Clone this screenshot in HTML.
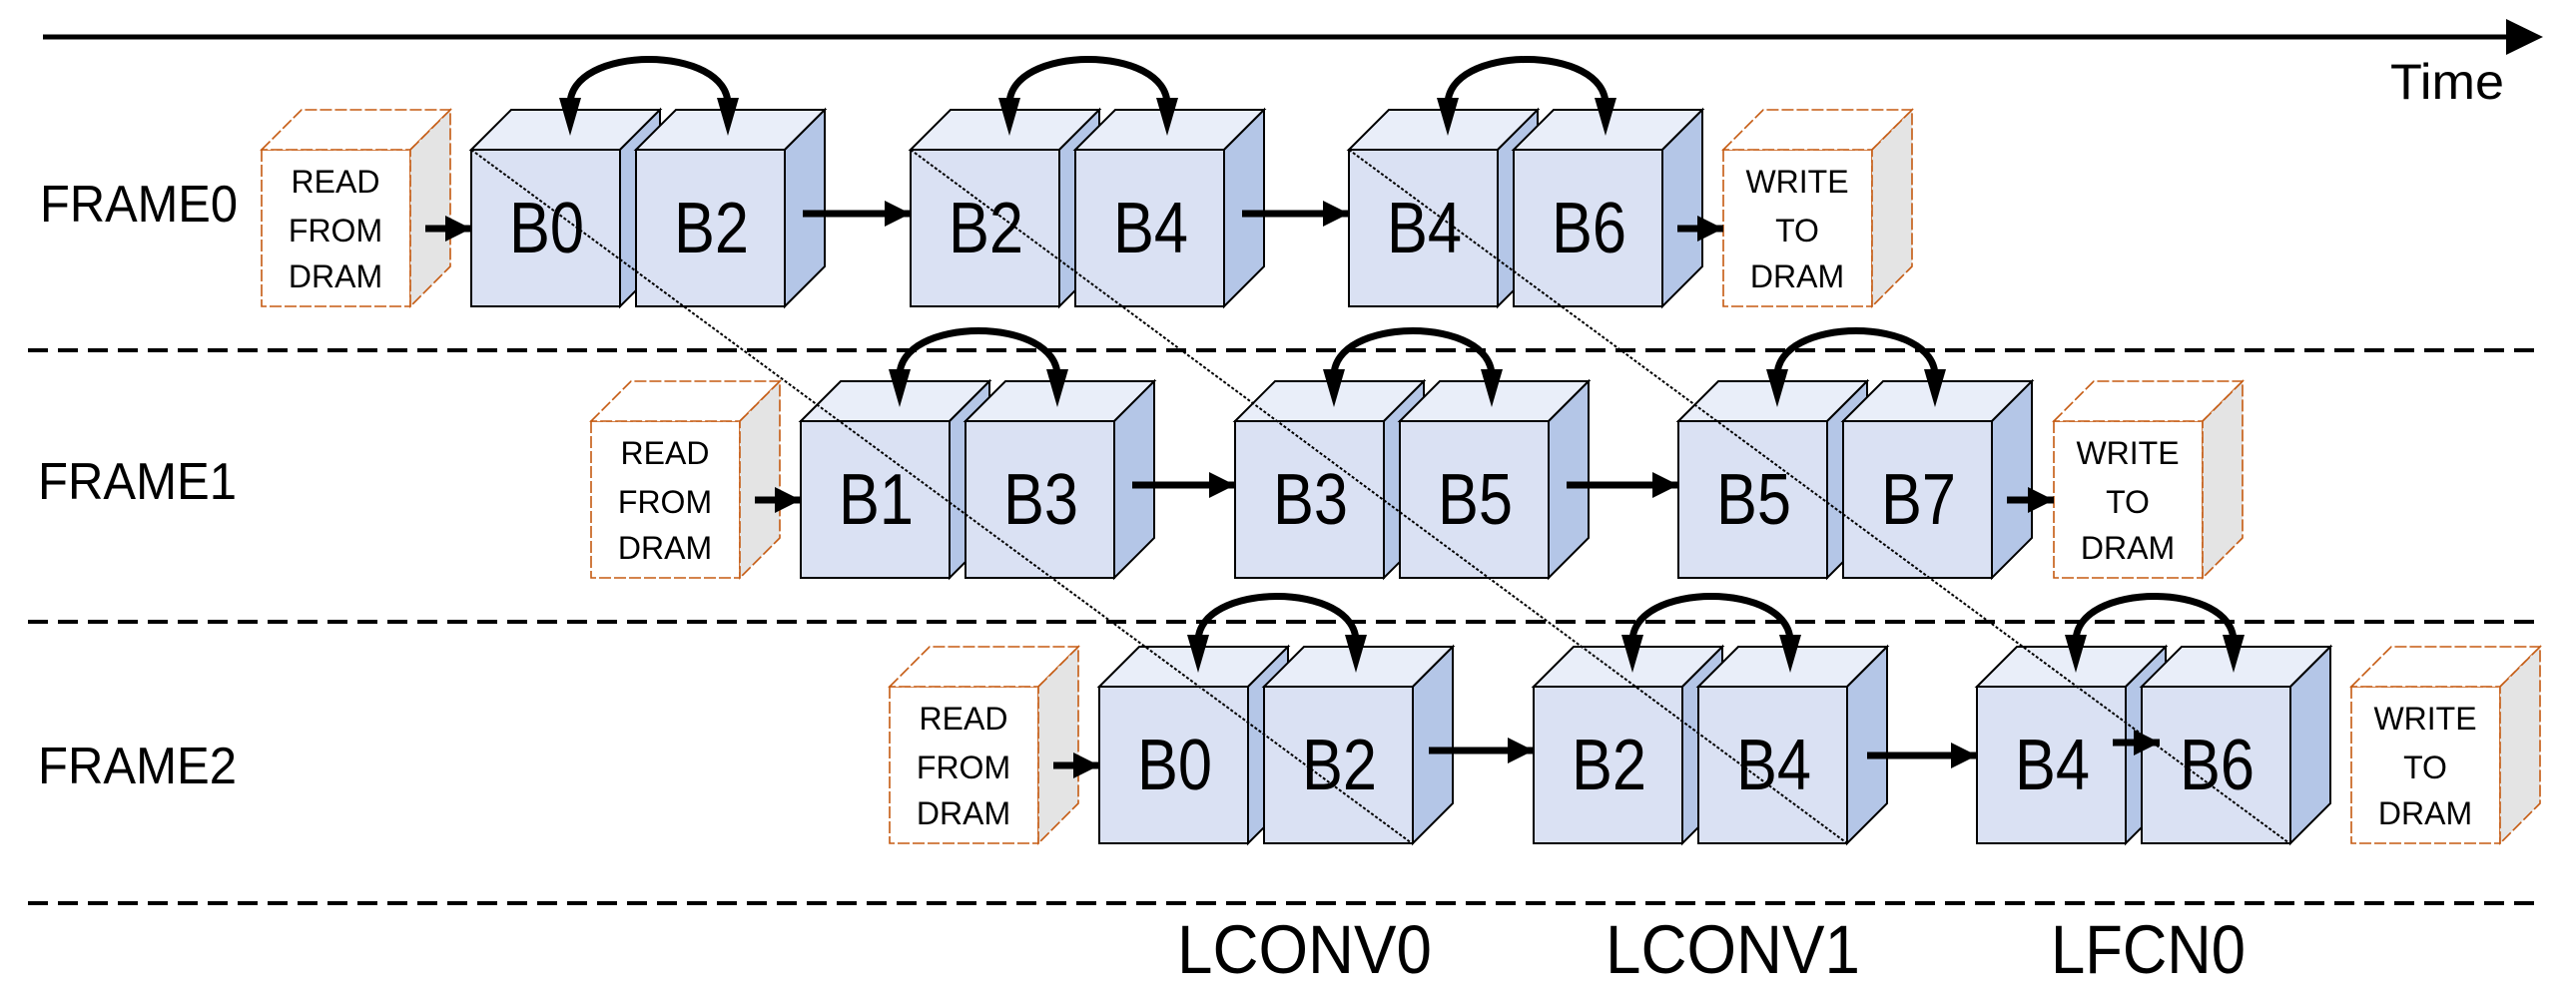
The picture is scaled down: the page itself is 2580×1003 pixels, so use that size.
<!DOCTYPE html>
<html><head><meta charset="utf-8"><style>html,body{margin:0;padding:0;background:#fff}svg{display:block}text{font-family:"Liberation Sans",sans-serif;fill:#000}</style></head>
<body>
<svg width="2580" height="1003" viewBox="0 0 2580 1003" xmlns="http://www.w3.org/2000/svg">
<defs>
<marker id="ah" markerUnits="userSpaceOnUse" markerWidth="30" markerHeight="30" refX="26" refY="13" orient="auto"><polygon points="0,0 26,13 0,26" fill="#000"/></marker>
<g id="cube" stroke="#000" stroke-width="2" stroke-linejoin="miter">
<rect x="0" y="0" width="149" height="157" fill="#dae1f3"/>
<polygon points="0,0 40,-40 189,-40 149,0" fill="#e9eef9"/>
<polygon points="149,0 189,-40 189,117 149,157" fill="#b4c6e7"/>
</g>
<g id="pair">
<use href="#cube"/>
<use href="#cube" x="165"/>
<path d="M99,-44 C97,-106 259,-106 257,-44" fill="none" stroke="#000" stroke-width="7"/>
<polygon points="88,-52 110,-52 99,-14" fill="#000"/>
<polygon points="246,-52 268,-52 257,-14" fill="#000"/>
</g>
<g id="dbox" stroke="#c55a11" stroke-width="1.6" stroke-dasharray="12,3">
<rect x="0" y="0" width="149" height="157" fill="#fff"/>
<polygon points="0,0 40,-40 189,-40 149,0" fill="#fff"/>
<polygon points="149,0 189,-40 189,117 149,157" fill="#e4e4e4"/>
</g>
</defs>

<line x1="43" y1="37" x2="2520" y2="37" stroke="#000" stroke-width="5"/>
<polygon points="2510,19 2547,37 2510,55" fill="#000"/>
<text x="2394" y="99" font-size="50" textLength="114" lengthAdjust="spacingAndGlyphs">Time</text>

<g stroke="#000" stroke-width="4" stroke-dasharray="20,10">
<line x1="28" y1="351" x2="2545" y2="351"/>
<line x1="28" y1="623" x2="2545" y2="623"/>
<line x1="28" y1="905" x2="2545" y2="905"/>
</g>

<text x="40" y="222" font-size="52" textLength="198" lengthAdjust="spacingAndGlyphs">FRAME0</text>
<text x="38" y="500" font-size="52" textLength="199" lengthAdjust="spacingAndGlyphs">FRAME1</text>
<text x="38" y="785" font-size="52" textLength="199" lengthAdjust="spacingAndGlyphs">FRAME2</text>

<use href="#dbox" x="262" y="150"/>
<use href="#dbox" x="592" y="422"/>
<use href="#dbox" x="891" y="688"/>
<use href="#dbox" x="1726" y="150"/>
<use href="#dbox" x="2057" y="422"/>
<use href="#dbox" x="2355" y="688"/>
<g font-size="32" text-anchor="middle">
<text x="336" y="193">READ</text><text x="336" y="242">FROM</text><text x="336" y="288">DRAM</text>
<text x="666" y="465">READ</text><text x="666" y="514">FROM</text><text x="666" y="560">DRAM</text>
<text x="965" y="731">READ</text><text x="965" y="780">FROM</text><text x="965" y="826">DRAM</text>
<text x="1800" y="193">WRITE</text><text x="1800" y="242">TO</text><text x="1800" y="288">DRAM</text>
<text x="2131" y="465">WRITE</text><text x="2131" y="514">TO</text><text x="2131" y="560">DRAM</text>
<text x="2429" y="731">WRITE</text><text x="2429" y="780">TO</text><text x="2429" y="826">DRAM</text>
</g>

<use href="#pair" x="472" y="150"/>
<use href="#pair" x="912" y="150"/>
<use href="#pair" x="1351" y="150"/>
<use href="#pair" x="802" y="422"/>
<use href="#pair" x="1237" y="422"/>
<use href="#pair" x="1681" y="422"/>
<use href="#pair" x="1101" y="688"/>
<use href="#pair" x="1536" y="688"/>
<use href="#pair" x="1980" y="688"/>

<g font-size="72">
<text x="510" y="253" textLength="75" lengthAdjust="spacingAndGlyphs">B0</text>
<text x="675" y="253" textLength="75" lengthAdjust="spacingAndGlyphs">B2</text>
<text x="950" y="253" textLength="75" lengthAdjust="spacingAndGlyphs">B2</text>
<text x="1115" y="253" textLength="75" lengthAdjust="spacingAndGlyphs">B4</text>
<text x="1389" y="253" textLength="75" lengthAdjust="spacingAndGlyphs">B4</text>
<text x="1554" y="253" textLength="75" lengthAdjust="spacingAndGlyphs">B6</text>
<text x="840" y="525" textLength="75" lengthAdjust="spacingAndGlyphs">B1</text>
<text x="1005" y="525" textLength="75" lengthAdjust="spacingAndGlyphs">B3</text>
<text x="1275" y="525" textLength="75" lengthAdjust="spacingAndGlyphs">B3</text>
<text x="1440" y="525" textLength="75" lengthAdjust="spacingAndGlyphs">B5</text>
<text x="1719" y="525" textLength="75" lengthAdjust="spacingAndGlyphs">B5</text>
<text x="1884" y="525" textLength="75" lengthAdjust="spacingAndGlyphs">B7</text>
<text x="1139" y="791" textLength="75" lengthAdjust="spacingAndGlyphs">B0</text>
<text x="1304" y="791" textLength="75" lengthAdjust="spacingAndGlyphs">B2</text>
<text x="1574" y="791" textLength="75" lengthAdjust="spacingAndGlyphs">B2</text>
<text x="1739" y="791" textLength="75" lengthAdjust="spacingAndGlyphs">B4</text>
<text x="2018" y="791" textLength="75" lengthAdjust="spacingAndGlyphs">B4</text>
<text x="2183" y="791" textLength="75" lengthAdjust="spacingAndGlyphs">B6</text>
</g>

<g stroke="#000" stroke-width="7" marker-end="url(#ah)">
<line x1="426" y1="229" x2="472" y2="229"/>
<line x1="804" y1="214" x2="912" y2="214"/>
<line x1="1244" y1="214" x2="1351" y2="214"/>
<line x1="1680" y1="229" x2="1726" y2="229"/>
<line x1="756" y1="501" x2="802" y2="501"/>
<line x1="1134" y1="486" x2="1237" y2="486"/>
<line x1="1569" y1="486" x2="1681" y2="486"/>
<line x1="2010" y1="501" x2="2057" y2="501"/>
<line x1="1055" y1="767" x2="1101" y2="767"/>
<line x1="1431" y1="752" x2="1536" y2="752"/>
<line x1="1870" y1="757" x2="1980" y2="757"/>
<line x1="2116" y1="744" x2="2163" y2="744"/>
</g>

<g stroke="#000" stroke-width="2" stroke-dasharray="3,2">
<line x1="472" y1="150" x2="1414" y2="845"/>
<line x1="912" y1="150" x2="1850" y2="845"/>
<line x1="1351" y1="150" x2="2293" y2="845"/>
</g>

<text x="1179" y="975" font-size="69" textLength="255" lengthAdjust="spacingAndGlyphs">LCONV0</text>
<text x="1608" y="975" font-size="69" textLength="255" lengthAdjust="spacingAndGlyphs">LCONV1</text>
<text x="2054" y="975" font-size="69" textLength="195" lengthAdjust="spacingAndGlyphs">LFCN0</text>
</svg>
</body></html>
